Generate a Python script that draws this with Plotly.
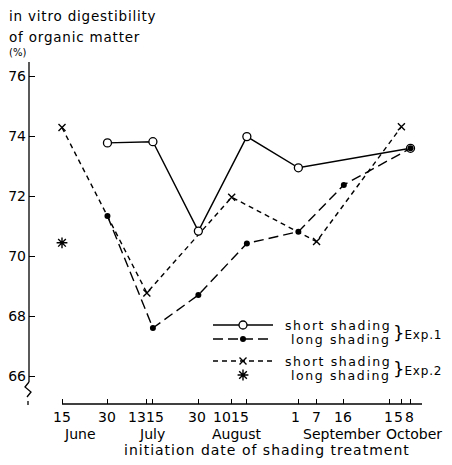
import plotly.graph_objects as go
from datetime import datetime, timedelta

YEAR = 1982

# ---- data ----
exp1_short_dates = ["06-30", "07-15", "07-30", "08-15", "09-01", "10-08"]
exp1_short_vals = [73.77, 73.81, 70.83, 73.98, 72.94, 73.59]

exp1_long_dates = ["06-30", "07-15", "07-30", "08-15", "09-01", "09-16", "10-08"]
exp1_long_vals = [71.33, 67.60, 68.70, 70.42, 70.81, 72.37, 73.59]

exp2_short_dates = ["06-15", "07-13", "08-10", "09-07", "10-05"]
exp2_short_vals = [74.28, 68.77, 71.96, 70.48, 74.31]

exp2_long_dates = ["06-15"]
exp2_long_vals = [70.44]

tick_dates = ["06-15", "06-30", "07-13", "07-15", "07-30", "08-10", "08-15",
              "09-01", "09-07", "09-16", "10-01", "10-05", "10-08"]
tick_labels = ["15", "30", "13", "15", "30", "10", "15", "1", "7", "16", "1", "5", "8"]
months = ["June", "July", "August", "September", "October"]
y_ticks = [66, 68, 70, 72, 74, 76]

y_title_lines = ["in vitro digestibility", "of organic matter"]
y_unit = "(%)"
x_title = "initiation date of shading treatment"
legend_labels = ["short shading", "long shading", "short shading", "long shading"]
legend_groups = ["Exp.1", "Exp.2"]


def d(md):
    return f"{YEAR}-{md}"


def spaced(text, ls):
    return f'<span style="letter-spacing:{ls}px">{text}</span>'


# ---- layout geometry (screen pixels of the 452x465 window) ----
WIN_W, WIN_H = 452, 465
OFF = 8                      # page body margin
W, H = WIN_W - OFF, WIN_H - OFF
L, R, T, B = 29, 430, 62, 404   # plot area in screen pixels
PW, PH = R - L, B - T
FONT = "DejaVu Sans"

start = datetime(YEAR, 6, 15)
px_start, px_end_tick = 62.0, 410.5
ppd = (px_end_tick - px_start) / 115.0
x_range = [start - timedelta(days=(px_start - L) / ppd),
           start + timedelta(days=(R - px_start) / ppd)]
y_per_px = 1 / 30.0
y_range = [76 - (B - 76) * y_per_px, 76 + (76 - T) * y_per_px]


def px(xp):
    return (xp - L) / PW


def py(yp):
    return (B - yp) / PH


fig = go.Figure()

LW = 1.4
# Exp.2 short shading
fig.add_trace(go.Scatter(
    x=[d(v) for v in exp2_short_dates], y=exp2_short_vals, mode="lines+markers",
    line=dict(color="black", width=LW, dash="5px,4px"),
    marker=dict(symbol="x-thin", size=7, color="black", line=dict(color="black", width=1.4)),
    showlegend=False))
# Exp.1 short shading
fig.add_trace(go.Scatter(
    x=[d(v) for v in exp1_short_dates], y=exp1_short_vals, mode="lines+markers",
    line=dict(color="black", width=LW),
    marker=dict(symbol="circle", size=8, color="white", line=dict(color="black", width=1.3)),
    showlegend=False))
# Exp.1 long shading
fig.add_trace(go.Scatter(
    x=[d(v) for v in exp1_long_dates], y=exp1_long_vals, mode="lines+markers",
    line=dict(color="black", width=LW, dash="10px,5px"),
    marker=dict(symbol="circle", size=6, color="black"),
    showlegend=False))
# Exp.2 long shading
fig.add_trace(go.Scatter(
    x=[d(v) for v in exp2_long_dates], y=exp2_long_vals, mode="markers",
    marker=dict(symbol="asterisk-open", size=9, color="black",
                line=dict(color="black", width=1.4)),
    showlegend=False))

# ---- custom legend on pixel-scaled overlay axes ----
rows_y = [325, 339, 361, 375]
lx0, lx1, lxm = 213, 273, 243
leg_styles = [
    dict(dash="solid", sym="circle", size=8, color="white", lw=1.3, line=True),
    dict(dash="10px,5px", sym="circle", size=6, color="black", lw=0, line=True),
    dict(dash="5px,4px", sym="x-thin", size=7, color="black", lw=1.4, line=True),
    dict(dash="solid", sym="asterisk-open", size=9, color="black", lw=1.4, line=False),
]
for ry, st in zip(rows_y, leg_styles):
    if st["line"]:
        fig.add_trace(go.Scatter(x=[lx0, lx1], y=[ry, ry], mode="lines", xaxis="x2", yaxis="y2",
                                 line=dict(color="black", width=LW, dash=st["dash"]),
                                 showlegend=False, hoverinfo="skip"))
    fig.add_trace(go.Scatter(x=[lxm], y=[ry], mode="markers", xaxis="x2", yaxis="y2",
                             marker=dict(symbol=st["sym"], size=st["size"], color=st["color"],
                                         line=dict(color="black", width=st["lw"])),
                             showlegend=False, hoverinfo="skip"))

annotations = []
for ry, lab in zip(rows_y, legend_labels):
    annotations.append(dict(x=393, y=ry, xref="x2", yref="y2", text=spaced(lab, 1.6),
                            showarrow=False, xanchor="right", yanchor="middle",
                            font=dict(size=12.5)))
for gy, g in zip([332, 368], legend_groups):
    annotations.append(dict(x=391, y=gy, xref="x2", yref="y2",
                            text='<span style="font-size:18px">}</span>' + spaced(g, 0.8),
                            showarrow=False, xanchor="left", yanchor="middle",
                            font=dict(size=12)))

# x tick labels (as text so crowded pairs can sit side by side)
label_nudge = [0, 0, -10, 2, -1, -10, -7, -3, 0, -1, -1, -3, -1]
for td, tl, nx in zip(tick_dates, tick_labels, label_nudge):
    annotations.append(dict(x=d(td), y=py(417), xref="x", yref="paper", text=tl,
                            showarrow=False, xanchor="center", yanchor="middle",
                            xshift=nx, font=dict(size=14)))
month_px = [80, 152, 237, 342, 414]
for m, mp in zip(months, month_px):
    annotations.append(dict(x=px(mp), y=py(434), xref="paper", yref="paper", text=m,
                            showarrow=False, xanchor="center", yanchor="middle",
                            font=dict(size=14)))
annotations.append(dict(x=px(267), y=py(450), xref="paper", yref="paper",
                        text=spaced(x_title, 1.0),
                        showarrow=False, xanchor="center", yanchor="middle", font=dict(size=14)))
# y title
for line, yp in zip(y_title_lines, [16, 37]):
    annotations.append(dict(x=px(7), y=py(yp), xref="paper", yref="paper", text=spaced(line, 0.8),
                            showarrow=False, xanchor="left", yanchor="middle",
                            font=dict(size=13.5)))
annotations.append(dict(x=px(7), y=py(52), xref="paper", yref="paper", text=y_unit,
                        showarrow=False, xanchor="left", yanchor="middle", font=dict(size=10)))

# ---- axis lines with break ----
shapes = []
shp = dict(type="line", xref="paper", yref="paper", line=dict(color="black", width=1.3))
# y axis
shapes.append(dict(shp, x0=px(29), x1=px(29), y0=py(62), y1=py(382)))
# break zigzag
zig = [(29, 382), (25, 387), (31, 392), (27, 397)]
path = "M " + " L ".join(f"{px(a):.5f},{py(b):.5f}" for a, b in zig)
shapes.append(dict(type="path", xref="paper", yref="paper", path=path,
                   line=dict(color="black", width=1.3)))
shapes.append(dict(shp, x0=px(28), x1=px(28), y0=py(401), y1=py(405)))
# x axis
shapes.append(dict(shp, x0=px(62), x1=px(422), y0=py(404), y1=py(404)))

fig.update_layout(
    width=W, height=H,
    margin=dict(l=L - OFF, r=WIN_W - R, t=T - OFF, b=WIN_H - B, pad=0),
    paper_bgcolor="white", plot_bgcolor="white",
    font=dict(family=FONT, color="black", size=14),
    xaxis=dict(type="date", range=x_range, tickvals=[d(t) for t in tick_dates],
               showticklabels=False, ticks="inside", ticklen=5, tickwidth=1.2,
               tickcolor="black", showgrid=False, zeroline=False, showline=False,
               automargin=False),
    yaxis=dict(range=y_range, tickvals=y_ticks, ticks="inside", ticklen=6, tickwidth=1.2,
               tickcolor="black", showgrid=False, zeroline=False, showline=False,
               tickfont=dict(size=14), ticklabelstandoff=2, automargin=False),
    xaxis2=dict(range=[L, R], overlaying="x", visible=False, anchor="y2", automargin=False),
    yaxis2=dict(range=[B, T], overlaying="y", visible=False, anchor="x2", automargin=False),
    annotations=annotations,
    shapes=shapes,
    showlegend=False,
)

fig.write_html("out.html")
